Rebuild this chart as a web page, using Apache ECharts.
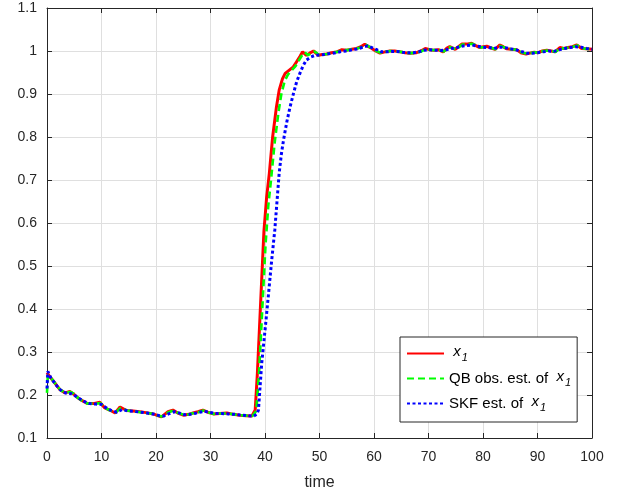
<!DOCTYPE html>
<html>
<head>
<meta charset="utf-8">
<script src="https://cdn.jsdelivr.net/npm/echarts@6/dist/echarts.min.js"></script>
<style>
html,body{margin:0;padding:0;background:#fff;}
#chart{width:624px;height:497px;}
</style>
</head>
<body>
<div id="chart"></div>
<script>
// ---- data ----
const xTicks = [0, 10, 20, 30, 40, 50, 60, 70, 80, 90, 100];
const yTicks = [0.1, 0.2, 0.3, 0.4, 0.5, 0.6, 0.7, 0.8, 0.9, 1.0, 1.1];
const seriesNames = ['x1', 'QB obs. est. of  x1', 'SKF est. of  x1'];

const redT = [0,0.5,1.2,1.8,2.4,3.3,4.2,4.8,5.4,6.3,7.3,8.5,9.7,10.6,11.5,12.5,13.4,14.6,15.8,17,18.2,19.5,20.3,21,22.2,23.1,24,25,26,26.8,27.7,28.6,29.5,30.5,31.7,33,34.2,35.4,36.5,37.6,38.2,38.6,39,39.4,39.8,40.3,40.8,41.4,42.1,42.6,43.2,43.7,44.4,45.2,45.8,46.4,46.9,47.6,48.2,48.9,49.8,50.5,51.3,52.2,53.2,54.1,55,55.9,56.8,57.6,58.3,59,59.6,60.3,61.1,62,62.9,63.8,64.8,65.7,66.6,67.8,68.6,69.4,70.2,70.9,71.8,72.7,73.3,73.9,74.9,75.5,76.1,77,77.9,78.6,79.4,80.1,80.7,81.5,82.2,83.1,83.7,84.3,85.2,86.2,87.1,87.9,88.6,89.4,90.1,90.9,91.7,92.5,93.2,94.1,94.8,95.6,96.4,97.2,98.1,99,100];
const redV = [0.252,0.243,0.232,0.222,0.212,0.205,0.208,0.203,0.196,0.188,0.181,0.180,0.183,0.170,0.165,0.158,0.172,0.164,0.163,0.161,0.159,0.156,0.152,0.149,0.161,0.165,0.158,0.153,0.155,0.158,0.161,0.165,0.160,0.156,0.157,0.158,0.155,0.153,0.152,0.151,0.165,0.25,0.36,0.47,0.58,0.66,0.716,0.80,0.87,0.909,0.935,0.948,0.955,0.963,0.975,0.987,0.998,0.99,0.995,1.0,0.99,0.992,0.993,0.996,0.998,1.003,1.002,1.004,1.006,1.01,1.016,1.01,1.006,1.0,0.995,0.998,1.0,1.0,0.998,0.996,0.995,0.996,1.0,1.006,1.003,1.002,1.003,0.998,1.006,1.01,1.004,1.01,1.016,1.016,1.018,1.013,1.008,1.01,1.011,1.007,1.004,1.014,1.01,1.005,1.004,1.003,0.995,0.993,0.995,0.997,0.996,1.0,1.002,1.0,0.998,1.008,1.006,1.008,1.01,1.014,1.006,1.005,1.004];

const greenT = [0,0.15,0.6,1.3,1.9,2.5,3.4,4.3,4.9,5.5,6.4,7.4,8.6,9.8,10.7,11.6,12.6,13.5,14.7,15.9,17.1,18.3,19.6,20.4,21.1,22.3,23.2,24.1,25.1,26.1,26.9,27.8,28.7,29.6,30.6,31.8,33.1,34.3,35.5,36.6,37.7,38.4,38.9,39.3,39.7,40.1,40.6,41.1,41.8,42.5,43.0,43.6,44.2,44.9,45.6,46.2,46.8,47.3,47.9,48.5,49.1,49.9,50.6,51.4,52.3,53.3,54.2,55.1,56,56.9,57.7,58.4,59.1,59.7,60.4,61.2,62.1,63,63.9,64.9,65.8,66.7,67.9,68.7,69.5,70.3,71,71.9,72.8,73.4,74,75,75.6,76.2,77.1,78,78.7,79.5,80.2,80.8,81.6,82.3,83.2,83.8,84.4,85.3,86.3,87.2,88,88.7,89.5,90.2,91,91.8,92.6,93.3,94.2,94.9,95.7,96.5,97.3,98.2,99.1,100];
const greenV = [0.205,0.245,0.242,0.230,0.221,0.211,0.206,0.207,0.203,0.195,0.187,0.180,0.180,0.181,0.170,0.164,0.159,0.170,0.164,0.162,0.160,0.158,0.156,0.152,0.150,0.160,0.164,0.158,0.154,0.155,0.158,0.160,0.164,0.160,0.156,0.157,0.157,0.155,0.153,0.152,0.151,0.163,0.25,0.35,0.45,0.55,0.64,0.70,0.79,0.86,0.90,0.93,0.945,0.955,0.965,0.978,0.99,0.997,0.99,0.996,0.999,0.991,0.992,0.993,0.996,0.998,1.002,1.002,1.004,1.006,1.009,1.015,1.01,1.006,1.0,0.996,0.998,1.0,1.0,0.998,0.996,0.995,0.996,0.999,1.005,1.003,1.002,1.003,0.999,1.005,1.009,1.004,1.009,1.015,1.016,1.017,1.013,1.008,1.009,1.01,1.007,1.004,1.012,1.009,1.005,1.004,1.003,0.996,0.994,0.995,0.997,0.996,1.0,1.001,1.0,0.998,1.007,1.006,1.008,1.01,1.013,1.006,1.005,1.004];

const blueT = [0,0.15,0.7,1.4,2.0,2.7,3.6,4.5,5.2,5.9,6.8,7.8,8.9,10.0,10.9,11.8,12.8,13.8,14.9,16.0,17.2,18.4,19.7,20.6,21.4,22.5,23.4,24.3,25.3,26.3,27.1,28.0,28.9,29.8,30.8,32.0,33.3,34.5,35.7,36.8,37.9,38.5,38.8,39.1,39.4,40.0,40.6,41.2,41.8,42.2,42.6,43.0,43.4,44.0,44.6,45.2,45.8,46.4,47.0,47.6,48.4,49.2,50,51,52,53,54,55,56,57,58,58.8,59.6,60.5,61.4,62.3,63.2,64.2,65.2,66.2,67.2,68.2,69.2,70.2,71.2,72.2,73.1,74,75,76,77,78,79,80,81,82,83,84,85,86,87,88,89,90,91,92,93,94,95,96,97,98,99,100];
const blueV = [0.215,0.255,0.240,0.228,0.218,0.209,0.204,0.203,0.198,0.192,0.185,0.180,0.179,0.178,0.170,0.164,0.160,0.166,0.163,0.162,0.160,0.158,0.155,0.152,0.151,0.157,0.161,0.158,0.154,0.155,0.157,0.160,0.162,0.160,0.157,0.157,0.156,0.155,0.153,0.152,0.151,0.155,0.165,0.22,0.274,0.35,0.429,0.51,0.584,0.65,0.716,0.76,0.793,0.835,0.87,0.90,0.928,0.948,0.966,0.979,0.986,0.99,0.991,0.992,0.994,0.996,0.999,1.0,1.003,1.005,1.009,1.012,1.008,1.003,0.998,0.998,0.999,0.999,0.997,0.996,0.996,0.998,1.002,1.003,1.002,1.001,1.002,1.006,1.007,1.011,1.013,1.014,1.011,1.009,1.008,1.006,1.009,1.008,1.005,1.003,0.999,0.995,0.995,0.996,0.998,1.0,0.999,1.003,1.006,1.008,1.01,1.009,1.006,1.004];

// ---- build chart ----
function zip(t, v) { return t.map((x, i) => [x, v[i]]); }
const AX = '#262626';
const GRID = '#dfdfdf';
const FONT = 'Liberation Sans, Arial, Helvetica, sans-serif';

const chart = echarts.init(document.getElementById('chart'), null, {renderer: 'canvas'});
const legendRich = {
  n: {fontFamily: FONT, fontSize: 15, color: '#000', lineHeight: 22},
  i: {fontFamily: FONT, fontSize: 15, fontStyle: 'italic', color: '#000', lineHeight: 22, padding: [0, 0, 4, 0]},
  s: {fontFamily: FONT, fontSize: 11, fontStyle: 'italic', color: '#000', lineHeight: 22, padding: [8, 0, 0, 1]}
};
function legendFmt(name) {
  const m = name.match(/^(.*?)x1$/);
  if (!m) return name;
  return (m[1] ? '{n|' + m[1] + '}' : '{n| }') + '{i|x}{s|1}';
}

const baseX = {
  type: 'value', min: 0, max: 100, interval: 10,
  axisLine: {show: true, onZero: false, lineStyle: {color: AX, width: 1}},
  axisTick: {show: true, inside: true, length: 5, lineStyle: {color: AX}},
  splitLine: {show: false}
};
const baseY = {
  type: 'value', min: 0.1, max: 1.1, interval: 0.1,
  axisLine: {show: true, onZero: false, lineStyle: {color: AX, width: 1}},
  axisTick: {show: true, inside: true, length: 5, lineStyle: {color: AX}},
  splitLine: {show: false}
};

chart.setOption({
  animation: false,
  backgroundColor: '#fff',
  grid: {left: 47, right: 32, top: 8, bottom: 59, containLabel: false},
  xAxis: [
    Object.assign({}, baseX, {
      position: 'bottom',
      name: 'time', nameLocation: 'middle', nameGap: 37,
      nameTextStyle: {fontFamily: FONT, fontSize: 16, color: AX},
      axisLabel: {show: true, margin: 12, fontFamily: FONT, fontSize: 14, color: AX},
      splitLine: {show: true, lineStyle: {color: GRID, width: 1}}
    }),
    Object.assign({}, baseX, {position: 'top', axisLabel: {show: false}})
  ],
  yAxis: [
    Object.assign({}, baseY, {
      position: 'left',
      axisLabel: {show: true, margin: 10, fontFamily: FONT, fontSize: 14, color: AX,
        formatter: v => String(Math.round(v * 10) / 10)},
      splitLine: {show: true, lineStyle: {color: GRID, width: 1}}
    }),
    Object.assign({}, baseY, {position: 'right', axisLabel: {show: false}})
  ],
  legend: {
    show: true,
    orient: 'vertical',
    left: 400, top: 337,
    padding: [7, 6, 9, 6],
    itemGap: 6,
    itemWidth: 37, itemHeight: 14,
    backgroundColor: '#fff',
    borderColor: AX, borderWidth: 1, borderRadius: 0,
    data: seriesNames,
    formatter: legendFmt,
    itemStyle: {opacity: 0},
    textStyle: {fontFamily: FONT, fontSize: 15, color: '#000', rich: legendRich},
    selectedMode: false
  },
  series: [
    {name: seriesNames[0], type: 'line', xAxisIndex: 0, yAxisIndex: 0, data: zip(redT, redV),
      showSymbol: false, symbol: 'none', smooth: false, z: 3,
      lineStyle: {color: '#ff0000', width: 3}, itemStyle: {color: '#ff0000'}},
    {name: seriesNames[1], type: 'line', xAxisIndex: 0, yAxisIndex: 0, data: zip(greenT, greenV),
      showSymbol: false, symbol: 'none', smooth: false, z: 4,
      lineStyle: {color: '#00ff00', width: 2.6, type: [7, 4]}, itemStyle: {color: '#00ff00'}},
    {name: seriesNames[2], type: 'line', xAxisIndex: 0, yAxisIndex: 0, data: zip(blueT, blueV),
      showSymbol: false, symbol: 'none', smooth: false, z: 5,
      lineStyle: {color: '#0000ff', width: 3, type: [3, 2.5]}, itemStyle: {color: '#0000ff'}}
  ]
});
</script>
</body>
</html>
